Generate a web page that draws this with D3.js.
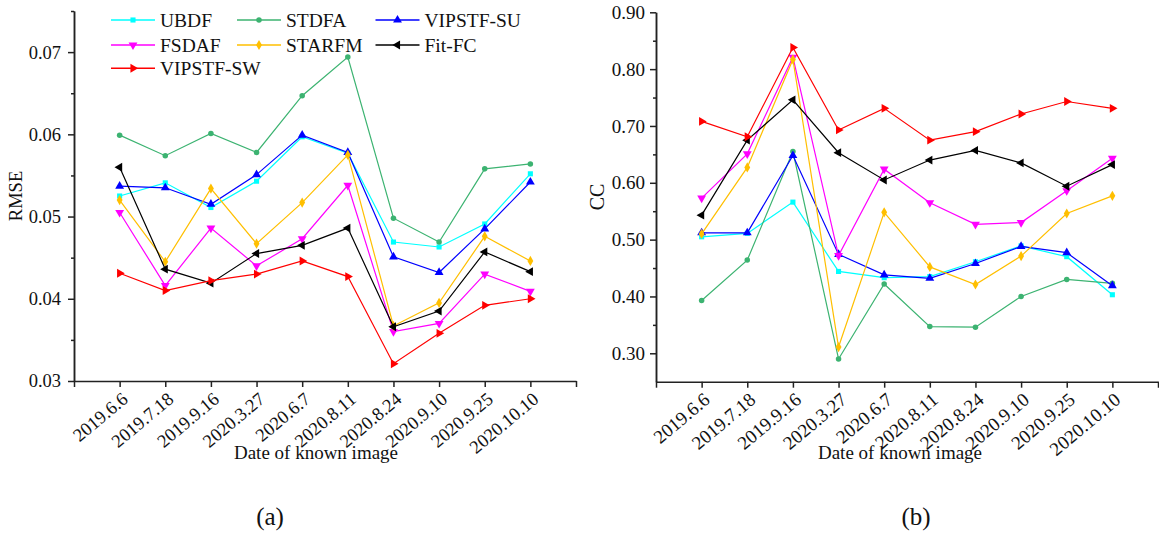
<!doctype html>
<html>
<head>
    <style>
        body { margin: 0; background: #fff; }
        svg text { font-family: "Liberation Serif", "Times New Roman", serif; fill: #111; }
        .axis path, .axis line { stroke: #222; stroke-width: 1.5; }
    </style>
    <script src="https://d3js.org/d3.v7.min.js"></script>
</head>
<body>
    <svg width="1159" height="535"></svg>
    <script>
        var dates = ["2019.6.6", "2019.7.18", "2019.9.16", "2020.3.27", "2020.6.7",
                     "2020.8.11", "2020.8.24", "2020.9.10", "2020.9.25", "2020.10.10"];
        var methods = ["UBDF", "STDFA", "VIPSTF-SU", "FSDAF", "STARFM", "Fit-FC", "VIPSTF-SW"];
        var colors = ["#00ffff", "#3cb371", "#0000ff", "#ff00ff", "#ffbf00", "#000000", "#ff0000"];

        // RMSE, one array per method
        var rmseUBDF     = [0.0525, 0.0541, 0.0511, 0.0543, 0.0597, 0.0577, 0.0469, 0.0463, 0.0491, 0.0552];
        var rmseSTDFA    = [0.0599, 0.0574, 0.0601, 0.0578, 0.0647, 0.0694, 0.0498, 0.0469, 0.0558, 0.0564];
        var rmseSU       = [0.0537, 0.0535, 0.0515, 0.0551, 0.0599, 0.0578, 0.0451, 0.0432, 0.0485, 0.0542];
        var rmseFSDAF    = [0.0505, 0.0416, 0.0486, 0.0440, 0.0473, 0.0538, 0.0360, 0.0370, 0.0430, 0.0409];
        var rmseSTARFM   = [0.0520, 0.0445, 0.0534, 0.0467, 0.0517, 0.0575, 0.0367, 0.0395, 0.0476, 0.0446];
        var rmseFitFC    = [0.0560, 0.0436, 0.0419, 0.0455, 0.0465, 0.0486, 0.0366, 0.0385, 0.0457, 0.0433];
        var rmseSW       = [0.0431, 0.0410, 0.0422, 0.0430, 0.0446, 0.0427, 0.0321, 0.0358, 0.0392, 0.0400];

        // CC, one array per method
        var ccUBDF   = [0.505, 0.511, 0.566, 0.444, 0.433, 0.435, 0.461, 0.489, 0.470, 0.403];
        var ccSTDFA  = [0.393, 0.464, 0.655, 0.290, 0.422, 0.347, 0.346, 0.400, 0.430, 0.423];
        var ccSU     = [0.512, 0.512, 0.648, 0.474, 0.438, 0.432, 0.458, 0.488, 0.477, 0.419];
        var ccFSDAF  = [0.573, 0.651, 0.821, 0.472, 0.624, 0.565, 0.527, 0.530, 0.586, 0.643];
        var ccSTARFM = [0.510, 0.627, 0.817, 0.311, 0.548, 0.452, 0.421, 0.471, 0.546, 0.577];
        var ccFitFC  = [0.543, 0.675, 0.746, 0.653, 0.605, 0.640, 0.657, 0.635, 0.594, 0.632];
        var ccSW     = [0.708, 0.681, 0.838, 0.693, 0.731, 0.675, 0.690, 0.721, 0.743, 0.731];

        var rmseSeries = [rmseUBDF, rmseSTDFA, rmseSU, rmseFSDAF, rmseSTARFM, rmseFitFC, rmseSW];
        var ccSeries = [ccUBDF, ccSTDFA, ccSU, ccFSDAF, ccSTARFM, ccFitFC, ccSW];

        // marker shape + rotation per method
        var shapes = [
            { type: d3.symbolSquare, size: 26, rot: 0 },
            { type: d3.symbolCircle, size: 24, rot: 0 },
            { type: d3.symbolTriangle, size: 34, rot: 0 },
            { type: d3.symbolTriangle, size: 34, rot: 180 },
            { type: d3.symbolDiamond, size: 30, rot: 0 },
            { type: d3.symbolTriangle, size: 34, rot: -90 },
            { type: d3.symbolTriangle, size: 34, rot: 90 }
        ];

        var svg = d3.select("svg");

        function drawPanel(cfg) {
            var x = d3.scaleLinear().domain([-1, 10]).range(cfg.xRange);
            var y = d3.scaleLinear().domain(cfg.yDomain).range(cfg.yRange);
            var g = svg.append("g");

            // minor y ticks
            g.append("g").attr("class", "axis")
                .attr("transform", "translate(" + cfg.xRange[0] + ",0)")
                .call(d3.axisLeft(y).tickValues(cfg.minor).tickSize(3).tickSizeOuter(0).tickFormat(""));
            // major y ticks
            var ya = g.append("g").attr("class", "axis")
                .attr("transform", "translate(" + cfg.xRange[0] + ",0)")
                .call(d3.axisLeft(y).tickValues(cfg.major).tickSize(6).tickSizeOuter(0)
                    .tickPadding(cfg.yPad).tickFormat(d3.format(".2f")));
            ya.selectAll("text").style("font-size", cfg.tickFont + "px");

            // x axis
            var xa = g.append("g").attr("class", "axis")
                .attr("transform", "translate(0," + cfg.yRange[0] + ")")
                .call(d3.axisBottom(x).tickValues(d3.range(-1, 11)).tickSize(6).tickSizeOuter(0)
                    .tickFormat(function (i) { return dates[i] || ""; }));
            xa.selectAll("text")
                .style("font-size", cfg.tickFont + "px")
                .attr("text-anchor", "end")
                .attr("y", 0).attr("dy", 0)
                .attr("transform", "translate(9,20) rotate(-40)");

            g.append("text")
                .attr("x", cfg.xTitleX).attr("y", 459)
                .attr("text-anchor", "middle")
                .style("font-size", "19px")
                .text("Date of known image");

            g.append("text")
                .attr("transform", "translate(" + cfg.yTitleX + "," + cfg.yTitleY + ") rotate(-90)")
                .attr("text-anchor", "middle")
                .attr("dy", "0.35em")
                .style("font-size", cfg.yTitleFont + "px")
                .text(cfg.yTitle);

            var line = d3.line()
                .x(function (d, i) { return x(i); })
                .y(function (d) { return y(d); });

            cfg.series.forEach(function (vals, k) {
                var s = g.append("g");
                s.append("path")
                    .datum(vals)
                    .attr("d", line)
                    .attr("fill", "none")
                    .attr("stroke", colors[k])
                    .attr("stroke-width", 1.2);
                s.selectAll(".pt")
                    .data(vals)
                    .enter().append("path")
                    .attr("class", "pt")
                    .attr("d", d3.symbol().type(shapes[k].type).size(shapes[k].size))
                    .attr("transform", function (d, i) {
                        return "translate(" + x(i) + "," + y(d) + ") rotate(" + shapes[k].rot + ")";
                    })
                    .attr("fill", colors[k]);
            });
            return g;
        }

        drawPanel({
            xRange: [74, 576], yDomain: [0.03, 0.075], yRange: [381, 11],
            major: [0.03, 0.04, 0.05, 0.06, 0.07], minor: [0.035, 0.045, 0.055, 0.065, 0.075],
            yPad: 7, tickFont: 18.5, xTitleX: 316, yTitleX: 16, yTitleY: 196, yTitleFont: 18.5,
            yTitle: "RMSE", series: rmseSeries
        });

        drawPanel({
            xRange: [656, 1158], yDomain: [0.25, 0.90], yRange: [381.7, 12.3],
            major: [0.30, 0.40, 0.50, 0.60, 0.70, 0.80, 0.90], minor: [0.35, 0.45, 0.55, 0.65, 0.75, 0.85],
            yPad: 5, tickFont: 19, xTitleX: 900, yTitleX: 597, yTitleY: 197, yTitleFont: 20,
            yTitle: "CC", series: ccSeries
        });

        // legend in the left panel
        var legCols = [111, 237, 375.5];
        var legRows = [20, 45, 68.3];
        var leg = svg.append("g");
        methods.forEach(function (m, k) {
            var lx = legCols[k % 3], ly = legRows[Math.floor(k / 3)];
            var item = leg.append("g").attr("transform", "translate(" + lx + "," + ly + ")");
            item.append("line").attr("x1", 0).attr("x2", 44).attr("y1", 0).attr("y2", 0)
                .attr("stroke", colors[k]).attr("stroke-width", 1.5);
            item.append("path")
                .attr("d", d3.symbol().type(shapes[k].type).size(shapes[k].size))
                .attr("transform", "translate(22,0) rotate(" + shapes[k].rot + ")")
                .attr("fill", colors[k]);
            item.append("text").attr("x", 49).attr("y", 6.5)
                .style("font-size", "19.5px")
                .text(m);
        });

        // panel captions
        svg.append("text").attr("x", 270).attr("y", 525).attr("text-anchor", "middle")
            .style("font-size", "25px").text("(a)");
        svg.append("text").attr("x", 916).attr("y", 525).attr("text-anchor", "middle")
            .style("font-size", "25px").text("(b)");
    </script>
</body>
</html>
